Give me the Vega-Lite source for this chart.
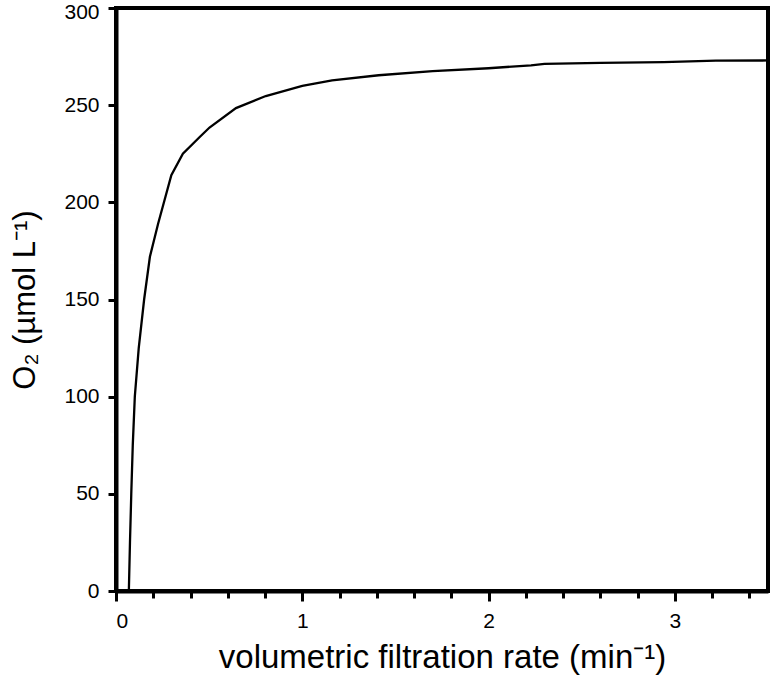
{
  "$schema": "https://vega.github.io/schema/vega-lite/v6.json",
  "width": 652,
  "height": 583,
  "autosize": "none",
  "padding": {"left": 116, "top": 8, "right": 6, "bottom": 87},
  "background": "white",
  "config": {
    "view": {"stroke": "black", "strokeWidth": 4},
    "font": "Liberation Sans",
    "axis": {
      "grid": false,
      "domainColor": "black",
      "domainWidth": 4,
      "tickColor": "black",
      "tickWidth": 3,
      "tickSize": 8,
      "labelFont": "Liberation Sans",
      "labelFontSize": 21,
      "labelColor": "black",
      "titleFont": "Liberation Sans",
      "titleFontWeight": "normal",
      "titleColor": "black"
    }
  },
  "data": {
    "values": [
      {"rate": 0.069, "o2": 0},
      {"rate": 0.075, "o2": 25},
      {"rate": 0.082, "o2": 50},
      {"rate": 0.09, "o2": 75},
      {"rate": 0.101, "o2": 100},
      {"rate": 0.122, "o2": 125},
      {"rate": 0.151, "o2": 150},
      {"rate": 0.182, "o2": 172},
      {"rate": 0.226, "o2": 189},
      {"rate": 0.297, "o2": 214},
      {"rate": 0.359, "o2": 225},
      {"rate": 0.448, "o2": 233.5},
      {"rate": 0.502, "o2": 238.5},
      {"rate": 0.644, "o2": 248.5},
      {"rate": 0.804, "o2": 254.7},
      {"rate": 1.0, "o2": 259.9},
      {"rate": 1.16, "o2": 262.8},
      {"rate": 1.41, "o2": 265.4},
      {"rate": 1.7, "o2": 267.5},
      {"rate": 2.0, "o2": 269},
      {"rate": 2.228, "o2": 270.5},
      {"rate": 2.3, "o2": 271.3},
      {"rate": 2.6, "o2": 271.8},
      {"rate": 2.94, "o2": 272.2},
      {"rate": 3.22, "o2": 272.9},
      {"rate": 3.5, "o2": 273}
    ]
  },
  "mark": {"type": "line", "color": "black", "strokeWidth": 2.3, "interpolate": "linear", "clip": true},
  "encoding": {
    "x": {
      "field": "rate",
      "type": "quantitative",
      "scale": {"domain": [0, 3.5], "nice": false, "zero": false},
      "axis": {
        "title": "volumetric filtration rate (min⁻¹)",
        "titleFontSize": 33,
        "values": [0, 0.2, 0.4, 0.6, 0.8, 1, 1.2, 1.4, 1.6, 1.8, 2, 2.2, 2.4, 2.6, 2.8, 3, 3.2, 3.4],
        "labelExpr": "datum.value % 1 === 0 ? format(datum.value, 'd') : ''",
        "tickSize": {"condition": {"test": "datum.value % 1 === 0", "value": 10}, "value": 7},
        "labelPadding": 9,
        "titlePadding": 10
      }
    },
    "y": {
      "field": "o2",
      "type": "quantitative",
      "scale": {"domain": [0, 300], "nice": false},
      "axis": {
        "title": "O₂ (µmol L⁻¹)",
        "titleFontSize": 31,
        "values": [0, 50, 100, 150, 200, 250, 300],
        "format": "d",
        "labelOffset": {"condition": {"test": "datum.value === 300", "value": 4}, "value": 0},
        "labelPadding": 9,
        "titlePadding": 22
      }
    }
  }
}
